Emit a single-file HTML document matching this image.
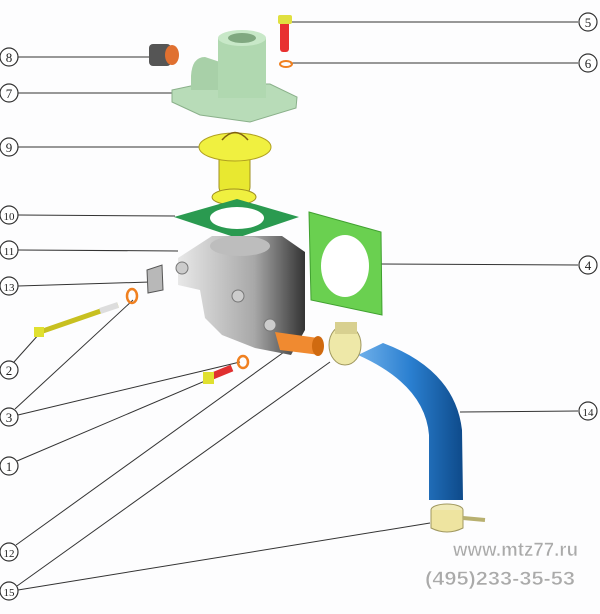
<!DOCTYPE html>
<html><head><style>
html,body{margin:0;padding:0;background:#fff;}
svg{display:block}
</style></head><body>
<svg width="600" height="614" viewBox="0 0 600 614" xmlns="http://www.w3.org/2000/svg" style="font-family:'Liberation Serif',serif">
<rect width="600" height="614" fill="#fdfdfe"/>
<defs>
<linearGradient id="hose" x1="0" x2="1"><stop offset="0" stop-color="#6fb0ea"/><stop offset="0.5" stop-color="#2a7fd0"/><stop offset="1" stop-color="#0e4a8a"/></linearGradient>
<linearGradient id="gray" x1="0" x2="1"><stop offset="0" stop-color="#e8e8e8"/><stop offset="0.6" stop-color="#a8a8a8"/><stop offset="1" stop-color="#333"/></linearGradient>
</defs>
<g stroke="#333" stroke-width="1" fill="none">
<line x1="285" y1="22" x2="578" y2="22"/>
<line x1="290" y1="63" x2="578" y2="63"/>
<line x1="18" y1="57" x2="152" y2="57"/>
<line x1="18" y1="93" x2="190" y2="93"/>
<line x1="18" y1="147" x2="210" y2="147"/>
<line x1="18" y1="215" x2="175" y2="216"/>
<line x1="18" y1="250" x2="178" y2="251"/>
<line x1="18" y1="286" x2="150" y2="282"/>
<line x1="380" y1="264" x2="578" y2="265"/>
<line x1="460" y1="412" x2="578" y2="411"/>
<line x1="14" y1="362" x2="40" y2="333"/>
<line x1="15" y1="409" x2="133" y2="300"/>
<line x1="18" y1="415" x2="240" y2="362"/>
<line x1="17" y1="461" x2="212" y2="378"/>
<line x1="16" y1="545" x2="298" y2="342"/>
<line x1="17" y1="586" x2="330" y2="362"/>
<line x1="18" y1="590" x2="430" y2="523"/>
</g>
<g fill="#fff" stroke="#333" stroke-width="1.2">
<circle cx="588" cy="22" r="9"/><circle cx="588" cy="63" r="9"/>
<circle cx="9" cy="57" r="9"/><circle cx="9" cy="93" r="9"/>
<circle cx="9" cy="147" r="9"/><circle cx="9" cy="215" r="9"/>
<circle cx="9" cy="250" r="9"/><circle cx="9" cy="286" r="9"/>
<circle cx="588" cy="265" r="9"/><circle cx="9" cy="370" r="9"/>
<circle cx="9" cy="417" r="9"/><circle cx="9" cy="466" r="9"/>
<circle cx="9" cy="552" r="9"/><circle cx="9" cy="591" r="9"/>
<circle cx="588" cy="411" r="9"/>
</g>
<g font-size="13" text-anchor="middle" fill="#222">
<text x="588" y="27">5</text><text x="588" y="68">6</text>
<text x="9" y="62">8</text><text x="9" y="98">7</text>
<text x="9" y="152">9</text><text x="9" y="220" font-size="11">10</text>
<text x="9" y="255" font-size="11">11</text><text x="9" y="291" font-size="11">13</text>
<text x="588" y="270">4</text><text x="9" y="375">2</text>
<text x="9" y="422">3</text><text x="9" y="471">1</text>
<text x="9" y="557" font-size="11">12</text><text x="9" y="596" font-size="11">15</text>
<text x="588" y="416" font-size="11">14</text>
</g>
<!-- bolt 5 -->
<rect x="280" y="20" width="9" height="32" rx="3" fill="#e83030"/>
<rect x="278" y="15" width="14" height="9" rx="2" fill="#e0e040"/>
<ellipse cx="286" cy="64" rx="6" ry="3" fill="none" stroke="#f08020" stroke-width="2"/>
<!-- plug 8 -->
<rect x="149" y="44" width="22" height="22" rx="4" fill="#555"/>
<ellipse cx="172" cy="55" rx="7" ry="10" fill="#e07030"/>
<!-- housing 7 -->
<path d="M172 90 L200 84 L270 84 L297 97 L296 108 L250 122 L200 115 L172 102 Z" fill="#b8dcb8" stroke="#8ab08a"/>
<path d="M191 76 Q192 57 205 57 L220 62 L220 90 L191 90 Z" fill="#a8d0a8"/>
<rect x="218" y="38" width="48" height="60" fill="#b0d8b0"/>
<ellipse cx="242" cy="38" rx="24" ry="8" fill="#c8e8c8"/>
<ellipse cx="242" cy="38" rx="14" ry="5" fill="#80a880"/>
<!-- thermostat 9 -->
<rect x="219" y="150" width="31" height="45" rx="8" fill="#e8e830" stroke="#a09020"/>
<ellipse cx="235" cy="147" rx="36" ry="14" fill="#f0f040" stroke="#b0a020"/>
<ellipse cx="234" cy="197" rx="22" ry="8" fill="#f0f040" stroke="#a09020"/>
<path d="M222 140 Q235 125 248 140" fill="none" stroke="#806010" stroke-width="1.5"/>
<!-- gasket 10 -->
<path d="M174 217 L237 199 L299 217 L237 238 Z" fill="#2a9a50"/>
<ellipse cx="237" cy="218" rx="27" ry="11" fill="#fff"/>
<!-- gasket 4 -->
<path d="M309 212 L381 232 L382 315 L311 300 Z" fill="#6ad050" stroke="#40a030"/>
<ellipse cx="345" cy="266" rx="24" ry="31" fill="#fff"/>
<!-- body 11 -->
<path d="M178 258 L212 236 L282 236 L305 252 L305 330 L291 355 L255 348 L222 335 L205 318 L200 290 L178 285 Z" fill="url(#gray)"/>
<ellipse cx="240" cy="246" rx="30" ry="10" fill="#bdbdbd"/>
<circle cx="182" cy="268" r="6" fill="#ccc" stroke="#777"/>
<circle cx="238" cy="296" r="6" fill="#ccc" stroke="#777"/>
<circle cx="270" cy="325" r="6" fill="#ccc" stroke="#777"/>
<!-- bracket 13 -->
<path d="M147 270 L162 265 L163 290 L148 293 Z" fill="#b8b8b8" stroke="#555"/>
<!-- bolt 2 & washer -->
<path d="M40 332 L118 305" stroke="#c8c020" stroke-width="5"/>
<path d="M100 311 L118 305" stroke="#ddd" stroke-width="6"/>
<rect x="34" y="327" width="10" height="10" fill="#e0e030"/>
<ellipse cx="132" cy="296" rx="5" ry="7" fill="none" stroke="#f08020" stroke-width="2.5"/>
<!-- bolt 1 & washer -->
<path d="M210 377 L232 368" stroke="#e03030" stroke-width="7"/>
<rect x="203" y="372" width="11" height="12" fill="#e0e030"/>
<ellipse cx="243" cy="362" rx="5" ry="6" fill="none" stroke="#f08020" stroke-width="2.5"/>
<!-- fitting 12 -->
<path d="M275 332 L318 338 L320 355 L280 350 Z" fill="#f08a30"/>
<ellipse cx="318" cy="346" rx="6" ry="10" fill="#d06a10"/>
<!-- hose 14 -->
<path d="M383 343 Q455 370 462 430 L463 500 L429 500 L429 435 Q425 385 358 355 Z" fill="url(#hose)"/>
<!-- clamp top -->
<ellipse cx="345" cy="345" rx="16" ry="20" fill="#eee8a8" stroke="#a09860"/>
<rect x="335" y="322" width="22" height="12" fill="#d8d090"/>
<!-- clamp bottom -->
<ellipse cx="447" cy="510" rx="16" ry="6" fill="#f0eab8" stroke="#a09860"/>
<path d="M431 510 L431 528 Q447 536 463 528 L463 510" fill="#eee4a0" stroke="#a09860"/>
<path d="M463 518 L485 520" stroke="#b8b070" stroke-width="4"/>
<!-- watermark -->
<g style="font-family:'Liberation Sans',sans-serif;font-weight:bold" fill="#aaa" stroke="#fff" stroke-width="0.5" text-anchor="end">
<text x="578" y="556" font-size="19" textLength="125" lengthAdjust="spacingAndGlyphs">www.mtz77.ru</text>
<text x="575" y="585" font-size="19" textLength="150" lengthAdjust="spacingAndGlyphs">(495)233-35-53</text>
</g>
</svg>
</body></html>
